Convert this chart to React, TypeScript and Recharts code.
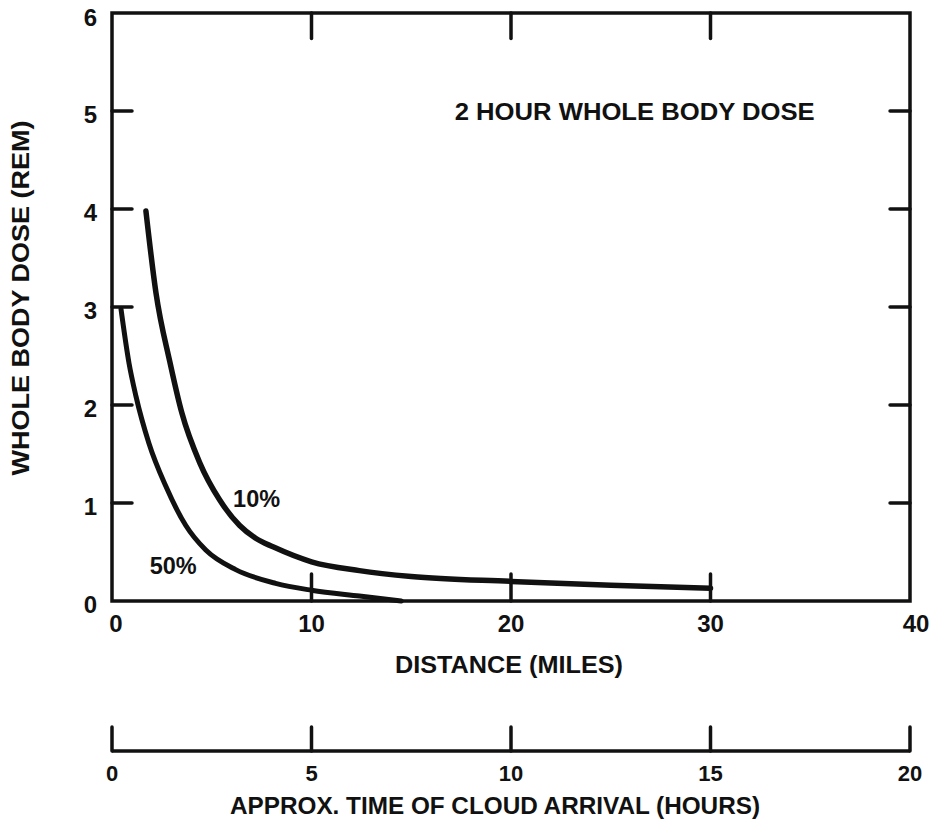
import React from 'react';
import { ComposedChart, Line, XAxis, YAxis, ReferenceArea, ReferenceDot, ReferenceLine } from 'recharts';

// ---------- data ----------
const distanceTicks = [0, 10, 20, 30, 40];
const hourTicks = [0, 5, 10, 15, 20];
const doseTicks = [0, 1, 2, 3, 4, 5, 6];
const innerDistanceTicks = [10, 20, 30];
const innerDoseTicks = [1, 2, 3, 4, 5];

const curve10Miles = [1.7, 2.2, 2.9, 3.5, 4.4, 5.4, 6.4, 7.2, 8.1, 10.0, 12.4, 15.0, 20.0, 25.0, 30.0];
const curve10Dose = [3.98, 3.15, 2.44, 1.92, 1.41, 1.03, 0.77, 0.64, 0.55, 0.4, 0.31, 0.25, 0.2, 0.16, 0.13];

const curve50Miles = [0.45, 0.85, 1.2, 1.85, 2.7, 3.7, 4.7, 6.2, 8.2, 10.0, 12.4, 14.5];
const curve50Dose = [2.98, 2.43, 2.09, 1.61, 1.17, 0.77, 0.52, 0.32, 0.18, 0.11, 0.05, 0.0];

const annotationTexts = ['2 HOUR WHOLE BODY DOSE', '10%', '50%'];
const annotationMiles = [26.2, 7.25, 3.07];
const annotationDose = [4.99, 1.04, 0.36];

const yTitle = 'WHOLE BODY DOSE (REM)';
const xTitle = 'DISTANCE (MILES)';
const hoursTitle = 'APPROX. TIME OF CLOUD ARRIVAL (HOURS)';

const curve10 = curve10Miles.map((m, i) => ({ mi: m, dose: curve10Dose[i] }));
const curve50 = curve50Miles.map((m, i) => ({ mi: m, dose: curve50Dose[i] }));
const hourRows = hourTicks.map((h) => ({ hr: h }));
const annotations = annotationTexts.map((t, i) => ({ text: t, mi: annotationMiles[i], dose: annotationDose[i] }));

// ---------- style ----------
const FONT = "'Liberation Sans', Arial, Helvetica, sans-serif";
const NARROW = "'Liberation Sans Narrow', 'Arial Narrow', 'Liberation Sans', Arial, sans-serif";
const INK = '#111';
const FRAME_W = 3.5;
const TOP_TICK_LEN = 0.26; // dose units
const RIGHT_TICK_LEN = 1.0; // miles

const BottomTick = (props: any) => {
  const { x, y, payload } = props;
  const v = payload.value;
  return (
    <g>
      {innerDistanceTicks.includes(v) && (
        <line x1={x} x2={x} y1={y} y2={y - 27} stroke={INK} strokeWidth={FRAME_W} strokeLinecap="round" />
      )}
      <text x={x + (v === 0 ? 4 : v === 40 ? 6 : 0)} y={y + 31} textAnchor="middle" style={{ fontSize: 24, fontWeight: 700, fontFamily: FONT }} fill={INK}>
        {v}
      </text>
    </g>
  );
};

const LeftTick = (props: any) => {
  const { x, y, payload } = props;
  const v = payload.value;
  return (
    <g>
      {innerDoseTicks.includes(v) && (
        <line x1={x} x2={x + 20} y1={y} y2={y} stroke={INK} strokeWidth={FRAME_W} strokeLinecap="round" />
      )}
      <text x={x - 15} y={y + (v === 6 ? 13 : 12)} textAnchor="end" style={{ fontSize: 24, fontWeight: 700, fontFamily: FONT }} fill={INK}>
        {v}
      </text>
    </g>
  );
};

const HourTick = (props: any) => {
  const { x, y, payload } = props;
  return (
    <g>
      <line x1={x} x2={x} y1={y} y2={y - 24} stroke={INK} strokeWidth={FRAME_W} strokeLinecap="round" />
      <text x={x} y={y + 30} textAnchor="middle" style={{ fontSize: 22, fontWeight: 700, fontFamily: NARROW }} fill={INK}>
        {payload.value}
      </text>
    </g>
  );
};

const annotationContent = (text: string, size: number, len?: number) => (p: any) => {
  const vb = p.viewBox || {};
  const cx = (vb.x ?? 0) + (vb.width ?? 0) / 2;
  const cy = (vb.y ?? 0) + (vb.height ?? 0) / 2;
  return (
    <text
      x={cx}
      y={cy}
      textAnchor="middle"
      dominantBaseline="central"
      style={{ fontSize: size, fontWeight: 700, fontFamily: FONT }}
      fill={INK}
      {...(len ? { textLength: len, lengthAdjust: 'spacingAndGlyphs' } : {})}
    >
      {text}
    </text>
  );
};

const yTitleContent = (p: any) => {
  const vb = p.viewBox;
  const cx = vb.x + 20;
  const cy = vb.y + vb.height / 2 - 9;
  return (
    <text
      x={cx}
      y={cy}
      transform={`rotate(-90 ${cx} ${cy})`}
      textAnchor="middle"
      dominantBaseline="central"
      style={{ fontSize: 24, fontWeight: 700, fontFamily: FONT }}
      fill={INK}
      textLength={355}
      lengthAdjust="spacingAndGlyphs"
    >
      {yTitle}
    </text>
  );
};

const xTitleContent = (p: any) => {
  const vb = p.viewBox;
  return (
    <text
      x={vb.x + vb.width / 2 - 2}
      y={vb.y + 63}
      textAnchor="middle"
      dominantBaseline="central"
      style={{ fontSize: 24, fontWeight: 700, fontFamily: FONT }}
      fill={INK}
      textLength={228}
      lengthAdjust="spacingAndGlyphs"
    >
      {xTitle}
    </text>
  );
};

const hoursTitleContent = (p: any) => {
  const vb = p.viewBox;
  return (
    <text
      x={vb.x + vb.width / 2 - 16}
      y={vb.y + 54}
      textAnchor="middle"
      dominantBaseline="central"
      style={{ fontSize: 24, fontWeight: 700, fontFamily: FONT }}
      fill={INK}
      textLength={530}
      lengthAdjust="spacingAndGlyphs"
    >
      {hoursTitle}
    </text>
  );
};

export default function App() {
  return (
    <div style={{ position: 'absolute', left: 0, top: 0, width: 932, height: 825, background: '#fff' }}>
      <ComposedChart width={932} height={825} margin={{ top: 13, right: 22, bottom: 0, left: 0 }}>
        <XAxis
          xAxisId="a_mi"
          dataKey="mi"
          type="number"
          domain={[0, 40]}
          ticks={distanceTicks}
          interval={0}
          height={150}
          axisLine={false}
          tickLine={false}
          tickSize={0}
          tickMargin={0}
          tick={<BottomTick />}
          label={{ content: xTitleContent }}
        />
        <XAxis
          xAxisId="b_hr"
          dataKey="hr"
          type="number"
          domain={[0, 20]}
          ticks={hourTicks}
          interval={0}
          height={74}
          axisLine={{ stroke: INK, strokeWidth: FRAME_W }}
          tickLine={false}
          tickSize={0}
          tickMargin={0}
          tick={<HourTick />}
          label={{ content: hoursTitleContent }}
        />
        <YAxis
          yAxisId="dose"
          type="number"
          domain={[0, 6]}
          ticks={doseTicks}
          interval={0}
          width={112}
          axisLine={false}
          tickLine={false}
          tickSize={0}
          tickMargin={0}
          tick={<LeftTick />}
          label={{ content: yTitleContent }}
        />
        <ReferenceArea
          xAxisId="a_mi"
          yAxisId="dose"
          x1={0}
          x2={40}
          y1={0}
          y2={6}
          fill="none"
          fillOpacity={0}
          stroke={INK}
          strokeWidth={FRAME_W}
          ifOverflow="visible"
        />
        {innerDistanceTicks.map((d) => (
          <ReferenceLine
            key={`t${d}`}
            xAxisId="a_mi"
            yAxisId="dose"
            segment={[
              { x: d, y: 6 },
              { x: d, y: 6 - TOP_TICK_LEN },
            ]}
            stroke={INK}
            strokeWidth={FRAME_W}
            strokeLinecap="round"
            ifOverflow="visible"
          />
        ))}
        {innerDoseTicks.map((v) => (
          <ReferenceLine
            key={`r${v}`}
            xAxisId="a_mi"
            yAxisId="dose"
            segment={[
              { x: 40, y: v },
              { x: 40 - RIGHT_TICK_LEN, y: v },
            ]}
            stroke={INK}
            strokeWidth={FRAME_W}
            strokeLinecap="round"
            ifOverflow="visible"
          />
        ))}
        <Line
          xAxisId="b_hr"
          yAxisId="dose"
          data={hourRows}
          dataKey="dose"
          stroke="none"
          dot={false}
          activeDot={false}
          legendType="none"
          isAnimationActive={false}
        />
        <Line
          xAxisId="a_mi"
          yAxisId="dose"
          data={curve10}
          dataKey="dose"
          type="monotone"
          stroke={INK}
          strokeWidth={5.5}
          strokeLinecap="round"
          dot={false}
          activeDot={false}
          isAnimationActive={false}
        />
        <Line
          xAxisId="a_mi"
          yAxisId="dose"
          data={curve50}
          dataKey="dose"
          type="monotone"
          stroke={INK}
          strokeWidth={5}
          strokeLinecap="round"
          dot={false}
          activeDot={false}
          isAnimationActive={false}
        />
        {annotations.map((a, i) => (
          <ReferenceDot
            key={a.text}
            xAxisId="a_mi"
            yAxisId="dose"
            x={a.mi}
            y={a.dose}
            r={1}
            fill="none"
            stroke="none"
            ifOverflow="visible"
            label={{ content: annotationContent(a.text, i === 0 ? 24 : 23, i === 0 ? 360 : 47) }}
          />
        ))}
      </ComposedChart>
    </div>
  );
}
